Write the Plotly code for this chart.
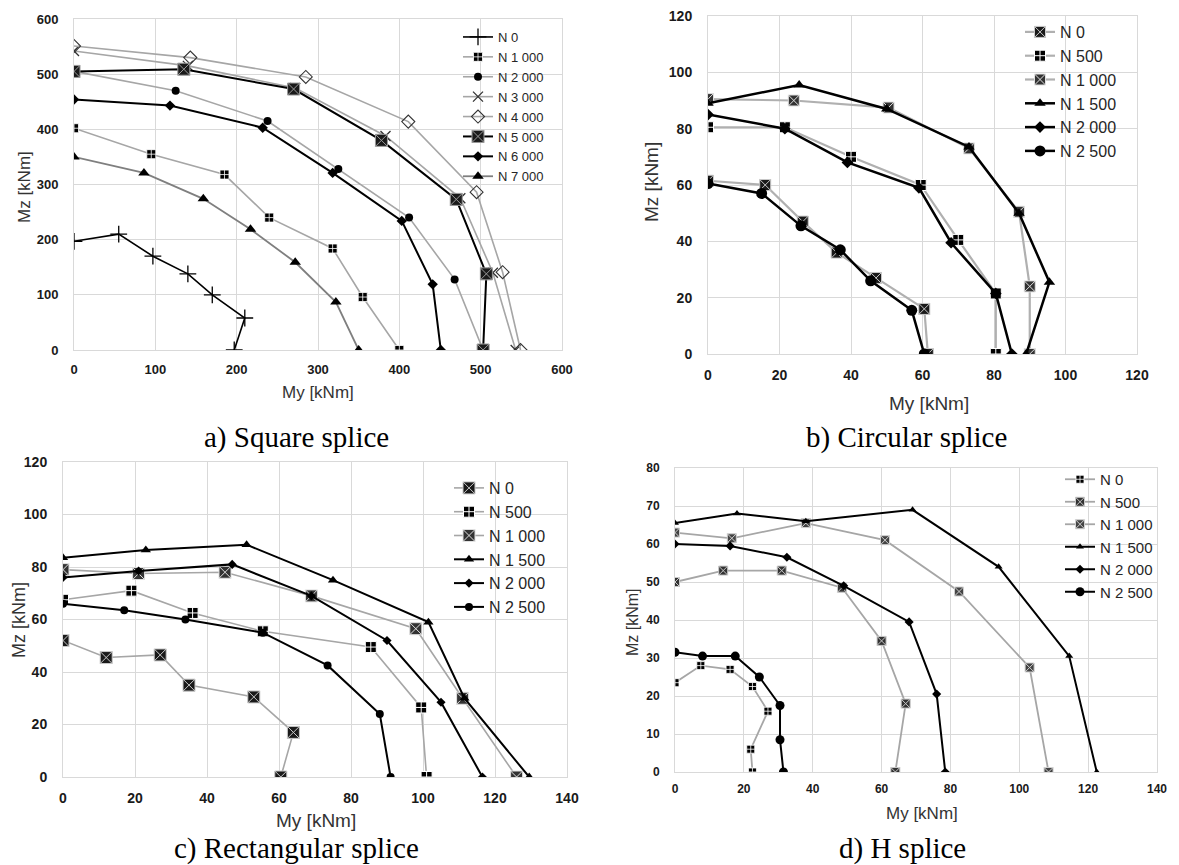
import plotly.graph_objects as go

# page body adds an 8px margin, so the figure is drawn 8px smaller and shifted
OFF = 8
W, H = 1179 - OFF, 865 - OFF

# ---------------- data (My, Mz in kNm) ----------------
# a) Square splice
a_names = ["N 0", "N 1 000", "N 2 000", "N 3 000", "N 4 000", "N 5 000", "N 6 000", "N 7 000"]
a_N0_my = [0, 55, 97, 140, 170, 210, 197]
a_N0_mz = [197, 210, 170, 138, 100, 58, 0]
a_N1000_my = [0, 95, 185, 240, 318, 355, 400]
a_N1000_mz = [402, 355, 318, 240, 184, 96, 0]
a_N2000_my = [0, 125, 238, 325, 412, 468, 503]
a_N2000_mz = [505, 470, 415, 328, 240, 128, 0]
a_N3000_my = [0, 140, 272, 383, 475, 515, 543]
a_N3000_mz = [542, 515, 475, 388, 275, 140, 0]
a_N4000_my = [0, 143, 285, 411, 495, 527, 549]
a_N4000_mz = [551, 530, 495, 414, 286, 141, 0]
a_N5000_my = [0, 135, 270, 378, 470, 507, 503]
a_N5000_mz = [505, 509, 473, 380, 273, 138, 0]
a_N6000_my = [0, 118, 232, 318, 403, 441, 451]
a_N6000_mz = [454, 443, 403, 321, 234, 119, 0]
a_N7000_my = [0, 86, 159, 217, 272, 322, 350]
a_N7000_mz = [350, 321, 274, 219, 159, 87, 0]

# b) Circular splice
b_names = ["N 0", "N 500", "N 1 000", "N 1 500", "N 2 000", "N 2 500"]
b_N0_my = [0, 16, 26.5, 36, 47, 60.5, 61.5]
b_N0_mz = [61.5, 60, 47, 36, 27, 16, 0]
b_N500_my = [0, 21.5, 40, 59.5, 70, 80.5, 80.5]
b_N500_mz = [80.5, 80.5, 70, 60, 40.5, 21.5, 0]
b_N1000_my = [0, 24, 50.5, 73, 87, 90, 90]
b_N1000_mz = [90.5, 90, 87.5, 73, 50.5, 24, 0]
b_N1500_my = [0, 25.5, 50, 73, 87, 95.5, 89]
b_N1500_mz = [89, 95.5, 87, 73.5, 50, 25.5, 0]
b_N2000_my = [0, 21.5, 39, 59, 68, 80.5, 85]
b_N2000_mz = [85, 80, 68, 59, 39.5, 21.5, 0]
b_N2500_my = [0, 15, 26, 37, 45.5, 57, 60.5]
b_N2500_mz = [60.5, 57, 45.5, 37, 26, 15.5, 0]

# c) Rectangular splice
c_names = ["N 0", "N 500", "N 1 000", "N 1 500", "N 2 000", "N 2 500"]
c_N0_my = [0, 12, 27, 35, 53, 64, 60.5]
c_N0_mz = [52, 45.5, 46.5, 35, 30.5, 17, 0]
c_N500_my = [0, 19, 36, 55.5, 85.5, 99.5, 101]
c_N500_mz = [67.5, 71, 62.5, 55.5, 49.5, 26.5, 0]
c_N1000_my = [0, 21, 45, 69, 98, 111, 126]
c_N1000_mz = [79, 77.5, 78, 69, 56.5, 30, 0]
c_N1500_my = [0, 23, 51, 75, 101.5, 111.5, 129.5]
c_N1500_mz = [83.5, 86.5, 88.5, 75, 59, 30, 0]
c_N2000_my = [0, 21, 47, 69, 90, 105, 116.5]
c_N2000_mz = [76, 78.5, 81, 69, 52, 28.5, 0]
c_N2500_my = [0, 17, 34, 55.5, 73.5, 88, 91]
c_N2500_mz = [66, 63.5, 60, 55, 42.5, 24, 0]

# d) H splice
d_names = ["N 0", "N 500", "N 1 000", "N 1 500", "N 2 000", "N 2 500"]
d_N0_my = [0, 7.5, 16, 22.5, 27, 22, 22.5]
d_N0_mz = [23.5, 28, 27, 22.5, 16, 6, 0]
d_N500_my = [0, 14, 31, 48.5, 60, 67, 64]
d_N500_mz = [50, 53, 53, 48.5, 34.5, 18, 0]
d_N1000_my = [0, 16.5, 38, 61, 82.5, 103, 108.5]
d_N1000_mz = [63, 61.5, 65.5, 61, 47.5, 27.5, 0]
d_N1500_my = [0, 18, 38, 69, 94, 114.5, 122.5]
d_N1500_mz = [65.5, 68, 66, 69, 54, 30.5, 0]
d_N2000_my = [0, 16, 32.5, 49, 68, 76, 78.5]
d_N2000_mz = [60, 59.5, 56.5, 49, 39.5, 20.5, 0]
d_N2500_my = [0, 8, 17.5, 24.5, 30.5, 30.5, 31.5]
d_N2500_mz = [31.5, 30.5, 30.5, 25, 17.5, 8.5, 0]

a_x_ticks = [0, 100, 200, 300, 400, 500, 600]
a_y_ticks = [0, 100, 200, 300, 400, 500, 600]
b_x_ticks = [0, 20, 40, 60, 80, 100, 120]
b_y_ticks = [0, 20, 40, 60, 80, 100, 120]
c_x_ticks = [0, 20, 40, 60, 80, 100, 120, 140]
c_y_ticks = [0, 20, 40, 60, 80, 100, 120]
d_x_ticks = [0, 20, 40, 60, 80, 100, 120, 140]
d_y_ticks = [0, 10, 20, 30, 40, 50, 60, 70, 80]

captions = ["a) Square splice", "b) Circular splice", "c) Rectangular splice", "d) H splice"]
x_title = "My [kNm]"
y_title = "Mz [kNm]"

# ---------------- styling ----------------
BLACK = "#000000"
LGRAY = "#a6a6a6"
MGRAY = "#7f7f7f"
GRID = "#d9d9d9"
TEXT = "#262626"


def px_x(p):
    return (p - OFF) / W


def px_y(p):
    return 1 - (p - OFF) / H


fig = go.Figure()


def add(xa, ya, leg, name, my, mz, lcolor, lwidth, symbol, msize, mcolor, mlcolor=None, mlwidth=0):
    marker = dict(symbol=symbol, size=msize, color=mcolor)
    if mlcolor is not None:
        marker["line"] = dict(color=mlcolor, width=mlwidth)
    else:
        marker["line"] = dict(width=0)
    fig.add_trace(go.Scatter(
        x=my, y=mz, name=name, mode="lines+markers",
        line=dict(color=lcolor, width=lwidth),
        marker=marker, xaxis=xa, yaxis=ya, legend=leg,
    ))


# a) Square splice
a_data = [(a_N0_my, a_N0_mz), (a_N1000_my, a_N1000_mz), (a_N2000_my, a_N2000_mz),
          (a_N3000_my, a_N3000_mz), (a_N4000_my, a_N4000_mz), (a_N5000_my, a_N5000_mz),
          (a_N6000_my, a_N6000_mz), (a_N7000_my, a_N7000_mz)]
a_style = [
    (BLACK, 1.6, "cross-thin", 12, BLACK, BLACK, 1.3),
    (LGRAY, 1.6, "square-cross", 9, BLACK, "#ffffff", 0.8),
    (LGRAY, 1.6, "circle", 8, BLACK, None, 0),
    (LGRAY, 1.6, "x-thin", 10, "#333333", "#333333", 1.3),
    (LGRAY, 1.6, "diamond-open", 10, "#333333", "#333333", 1.1),
    (BLACK, 2.0, "square-x", 12, "#1a1a1a", "#9a9a9a", 1),
    (BLACK, 2.0, "diamond", 8, BLACK, None, 0),
    (MGRAY, 1.8, "triangle-up", 10, BLACK, None, 0),
]
for name, (my, mz), st in zip(a_names, a_data, a_style):
    add("x", "y", "legend", name, my, mz, *st)

# b) Circular splice
b_data = [(b_N0_my, b_N0_mz), (b_N500_my, b_N500_mz), (b_N1000_my, b_N1000_mz),
          (b_N1500_my, b_N1500_mz), (b_N2000_my, b_N2000_mz), (b_N2500_my, b_N2500_mz)]
b_style = [
    ("#b0b0b0", 2.2, "square-x", 11, "#1a1a1a", "#c8c8c8", 1),
    ("#b0b0b0", 2.2, "square-cross", 11, BLACK, "#ffffff", 1),
    ("#b0b0b0", 2.2, "square-x", 11, "#333333", "#e0e0e0", 1),
    (BLACK, 2.5, "triangle-up", 10, BLACK, None, 0),
    (BLACK, 2.5, "diamond", 9, BLACK, None, 0),
    (BLACK, 2.5, "circle", 11, BLACK, None, 0),
]
for name, (my, mz), st in zip(b_names, b_data, b_style):
    add("x2", "y2", "legend2", name, my, mz, *st)

# c) Rectangular splice
c_data = [(c_N0_my, c_N0_mz), (c_N500_my, c_N500_mz), (c_N1000_my, c_N1000_mz),
          (c_N1500_my, c_N1500_mz), (c_N2000_my, c_N2000_mz), (c_N2500_my, c_N2500_mz)]
c_style = [
    (LGRAY, 1.6, "square-x", 12, "#1a1a1a", "#c8c8c8", 1),
    (LGRAY, 1.6, "square-cross", 11, BLACK, "#ffffff", 1),
    (LGRAY, 1.6, "square-x", 12, "#333333", "#e0e0e0", 1),
    (BLACK, 2.0, "triangle-up", 9, BLACK, None, 0),
    (BLACK, 2.0, "diamond", 7, BLACK, None, 0),
    (BLACK, 2.0, "circle", 8, BLACK, None, 0),
]
for name, (my, mz), st in zip(c_names, c_data, c_style):
    add("x3", "y3", "legend3", name, my, mz, *st)

# d) H splice
d_data = [(d_N0_my, d_N0_mz), (d_N500_my, d_N500_mz), (d_N1000_my, d_N1000_mz),
          (d_N1500_my, d_N1500_mz), (d_N2000_my, d_N2000_mz), (d_N2500_my, d_N2500_mz)]
d_style = [
    (LGRAY, 1.8, "square-cross", 8, BLACK, "#ffffff", 0.8),
    (LGRAY, 1.8, "square-x", 9, "#333333", "#c8c8c8", 1),
    (LGRAY, 1.8, "square-x", 9, "#444444", "#d0d0d0", 1),
    (BLACK, 2.0, "triangle-up", 7, BLACK, None, 0),
    (BLACK, 2.0, "diamond", 7, BLACK, None, 0),
    (BLACK, 2.0, "circle", 9, BLACK, None, 0),
]
for name, (my, mz), st in zip(d_names, d_data, d_style):
    add("x4", "y4", "legend4", name, my, mz, *st)


# ---------------- axes ----------------
def axis(domain, rng, ticks, anchor, tsize, standoff):
    return dict(
        domain=domain, range=rng, tickvals=ticks,
        ticktext=["<b>%d</b>" % v for v in ticks], anchor=anchor,
        showgrid=True, gridcolor=GRID, gridwidth=1,
        zeroline=False, showline=True, linecolor=GRID, linewidth=1, mirror=True,
        ticks="", ticklabelstandoff=standoff, automargin=False,
        ticklabeloverflow="allow",
        tickfont=dict(family="Liberation Sans", size=tsize, color="#1a1a1a"),
        fixedrange=True,
    )


# plot-area pixel boxes in the screenshot (left, right, top, bottom)
boxes = {
    "a": (74, 562, 19, 350),
    "b": (708, 1137, 16, 354),
    "c": (63, 567, 462, 777),
    "d": (675, 1157, 468, 772),
}


def xdom(k):
    l, r, t, b = boxes[k]
    return [px_x(l), px_x(r)]


def ydom(k):
    l, r, t, b = boxes[k]
    return [px_y(b), px_y(t)]


layout = dict(
    width=W, height=H,
    margin=dict(l=0, r=0, t=0, b=0, autoexpand=False),
    paper_bgcolor="white", plot_bgcolor="white",
    xaxis=axis(xdom("a"), [0, 600], a_x_ticks, "y", 13, 7),
    yaxis=axis(ydom("a"), [0, 600], a_y_ticks, "x", 13, 12),
    xaxis2=axis(xdom("b"), [0, 120], b_x_ticks, "y2", 14, 8),
    yaxis2=axis(ydom("b"), [0, 120], b_y_ticks, "x2", 14, 12),
    xaxis3=axis(xdom("c"), [0, 140], c_x_ticks, "y3", 14, 8),
    yaxis3=axis(ydom("c"), [0, 120], c_y_ticks, "x3", 14, 12),
    xaxis4=axis(xdom("d"), [0, 140], d_x_ticks, "y4", 12, 6),
    yaxis4=axis(ydom("d"), [0, 80], d_y_ticks, "x4", 12, 12),
)


def legend(left_px, top_px, fsize):
    return dict(
        x=px_x(left_px), y=px_y(top_px), xanchor="left", yanchor="top",
        bgcolor="rgba(0,0,0,0)", borderwidth=0, itemwidth=30,
        font=dict(family="Liberation Sans", size=fsize, color=TEXT),
        tracegroupgap=0, itemclick=False,
    )


layout["legend"] = legend(458, 22, 13)
layout["legend2"] = legend(1020, 15, 16)
layout["legend3"] = legend(449, 471, 16)
layout["legend4"] = legend(1060, 463, 15)

annotations = []
# captions
cap_pos = [(296, 438, 29), (906, 438, 29), (296, 848, 29), (902, 848, 29)]
for text, (cx, cy, fs) in zip(captions, cap_pos):
    annotations.append(dict(text=text, x=px_x(cx), y=px_y(cy), xref="paper", yref="paper",
                            xanchor="center", yanchor="middle", showarrow=False,
                            font=dict(family="Liberation Serif", size=fs, color=BLACK)))
# axis titles
xt_pos = [(318, 393, 17), (929, 403, 19), (316, 820, 19), (922, 813, 17)]
for cx, cy, fs in xt_pos:
    annotations.append(dict(text=x_title, x=px_x(cx), y=px_y(cy), xref="paper", yref="paper",
                            xanchor="center", yanchor="middle", showarrow=False,
                            font=dict(family="Liberation Sans", size=fs, color="#333333")))
yt_pos = [(24, 187, 17), (651, 182, 19), (19, 620, 18), (632, 622, 16)]
for cx, cy, fs in yt_pos:
    annotations.append(dict(text=y_title, x=px_x(cx), y=px_y(cy), xref="paper", yref="paper",
                            xanchor="center", yanchor="middle", showarrow=False, textangle=-90,
                            font=dict(family="Liberation Sans", size=fs, color="#333333")))
layout["annotations"] = annotations

fig.update_layout(**layout)
fig.write_html("out.html")
